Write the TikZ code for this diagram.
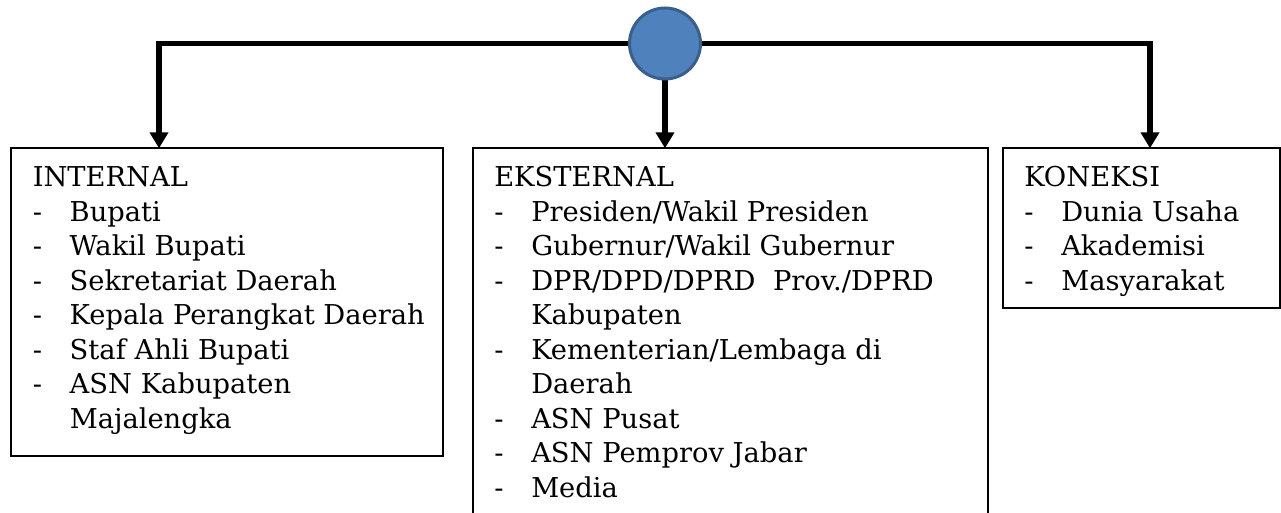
\documentclass[tikz,border=0pt]{standalone}
\usepackage{fontspec}
\setmainfont{DejaVu Serif}
\usetikzlibrary{arrows.meta,backgrounds}
\definecolor{hubfill}{HTML}{4F81BD}
\definecolor{hubline}{HTML}{3A5F8B}
\newcommand{\dashlist}[2]{{\fontsize{20.5}{25.875}\selectfont
  \begin{tabular}[t]{@{}p{27.75pt}@{}l@{}}\multicolumn{2}{@{}l@{}}{#1}\\#2\end{tabular}}}
\tikzset{
  groupbox/.style={draw=black, line width=1.2pt, inner sep=0pt},
  listtext/.style={anchor=base west, inner sep=0pt, align=left},
  hub/.style={circle, fill=hubfill, draw=hubline, line width=2.25pt, minimum size=53.25pt, inner sep=0pt},
  conn/.style={line width=4pt, -{Triangle[length=12pt,width=13.5pt]}},
}
\begin{document}
\begin{tikzpicture}[x=0.75pt,y=-0.75pt]
\useasboundingbox (0,0) rectangle (1281,513);
% boxes
\draw[groupbox] (10.7,148.3) rectangle (442.7,456);
\draw[groupbox] (472.7,148.3) rectangle (988,530);
\draw[groupbox] (1002.7,148.3) rectangle (1280,308);
\node[hub] (c) at (665,43.5) {};
\coordinate (li) at (159,148.3);
\coordinate (le) at (665,148.3);
\coordinate (lk) at (1150,148.3);
\begin{scope}[on background layer]
\draw[conn] (c.center) -| (li);
\draw[conn] (c.center) -| (lk);
\draw[conn] (c.south) -- (le);
\end{scope}
\node[listtext] (internal) at (32.5,187) {\dashlist{INTERNAL}{%
-&Bupati\\
-&Wakil Bupati\\
-&Sekretariat Daerah\\
-&Kepala Perangkat Daerah\\
-&Staf Ahli Bupati\\
-&ASN Kabupaten\\
&Majalengka}};
\node[listtext] (eksternal) at (494,187) {\dashlist{EKSTERNAL}{%
-&Presiden/Wakil Presiden\\
-&Gubernur/Wakil Gubernur\\
-&DPR/DPD/DPRD\ \ Prov./DPRD\\
&Kabupaten\\
-&Kementerian/Lembaga di\\
&Daerah\\
-&ASN Pusat\\
-&ASN Pemprov Jabar\\
-&Media}};
\node[listtext] (koneksi) at (1024,187) {\dashlist{KONEKSI}{%
-&Dunia Usaha\\
-&Akademisi\\
-&Masyarakat}};
\end{tikzpicture}
\end{document}
